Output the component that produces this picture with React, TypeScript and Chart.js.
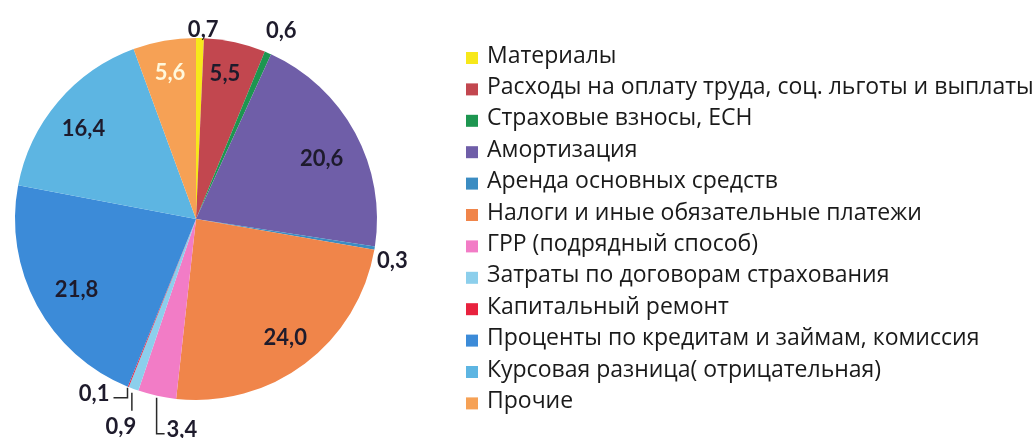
import React, { useEffect, useRef } from "react";
import { Chart, registerables } from "chart.js";

Chart.register(...registerables);

const categories = [
  "Материалы",
  "Расходы на оплату труда, соц. льготы и выплаты",
  "Страховые взносы, ЕСН",
  "Амортизация",
  "Аренда основных средств",
  "Налоги и иные обязательные платежи",
  "ГРР (подрядный способ)",
  "Затраты по договорам страхования",
  "Капитальный ремонт",
  "Проценты по кредитам и займам, комиссия",
  "Курсовая разница( отрицательная)",
  "Прочие",
];

const values = [0.7, 5.5, 0.6, 20.6, 0.3, 24.0, 3.4, 0.9, 0.1, 21.8, 16.4, 5.6];

const valueLabels = ["0,7", "5,5", "0,6", "20,6", "0,3", "24,0", "3,4", "0,9", "0,1", "21,8", "16,4", "5,6"];

const colors = [
  "#f7e81a",
  "#c2474f",
  "#1d9650",
  "#6f5ea8",
  "#3b8cc2",
  "#f0854a",
  "#f27cc6",
  "#8ccfec",
  "#e8223e",
  "#3c8bd8",
  "#5db5e2",
  "#f6a155",
];

// label placement: kind in = inside (r factor of radius), out = outside (r offset px), leader = leader line
const placement: any[] = [
  { kind: "out", r: 10, dx: 3, dy: 2 },
  { kind: "in", r: 0.82, dx: -3, dy: 0 },
  { kind: "out", r: 26, dx: 3, dy: 2 },
  { kind: "in", r: 0.77, dx: 3, dy: 6 },
  { kind: "out", r: 20, dx: -2, dy: 9 },
  { kind: "in", r: 0.82, dx: 0, dy: 0 },
  { kind: "leader", dir: "down-right" },
  { kind: "leader", dir: "down" },
  { kind: "leader", dir: "left" },
  { kind: "in", r: 0.77, dx: 3, dy: 4 },
  { kind: "in", r: 0.8, dx: -2, dy: 4 },
  { kind: "in", r: 0.82, dx: 0, dy: 0 },
];

const labelFont = "bold 22px Lato";
const legendFont = "23px 'Open Sans'";

const labelsPlugin = {
  id: "valueLabels",
  afterDatasetsDraw(chart: any) {
    const ctx = chart.ctx;
    const meta = chart.getDatasetMeta(0);
    ctx.save();
    ctx.font = labelFont;
    ctx.textBaseline = "middle";
    meta.data.forEach((arc: any, i: number) => {
      const p = placement[i];
      const { x, y, startAngle, endAngle, outerRadius } = arc.getProps(
        ["x", "y", "startAngle", "endAngle", "outerRadius"],
        true
      );
      const mid = (startAngle + endAngle) / 2;
      const cos = Math.cos(mid);
      const sin = Math.sin(mid);
      ctx.fillStyle = i === 11 ? "#fff8dc" : "#1e1b2c";
      if (p.kind === "in" || p.kind === "out") {
        const r = p.kind === "in" ? outerRadius * p.r : outerRadius + p.r;
        ctx.textAlign = "center";
        ctx.fillText(valueLabels[i], x + cos * r + p.dx, y + sin * r + p.dy);
      } else {
        const ax = x + cos * (outerRadius + 2);
        const ay = y + sin * (outerRadius + 2);
        ctx.strokeStyle = "#2a2a2a";
        ctx.lineWidth = 1.5;
        ctx.beginPath();
        if (p.dir === "down-right") {
          ctx.moveTo(ax, ay);
          ctx.lineTo(ax, ay + 36);
          ctx.lineTo(ax + 8, ay + 36);
          ctx.stroke();
          ctx.textAlign = "left";
          ctx.fillText(valueLabels[i], ax + 10, ay + 32);
        } else if (p.dir === "down") {
          ctx.moveTo(ax - 1, ay + 2);
          ctx.lineTo(ax - 1, ay + 20);
          ctx.stroke();
          ctx.textAlign = "center";
          ctx.fillText(valueLabels[i], ax - 12, ay + 36);
        } else {
          ctx.moveTo(ax, ay - 1);
          ctx.lineTo(ax, ay + 9);
          ctx.lineTo(ax - 14, ay + 9);
          ctx.stroke();
          ctx.textAlign = "right";
          ctx.fillText(valueLabels[i], ax - 18, ay + 5);
        }
      }
    });
    ctx.restore();
  },
};

const legendPlugin = {
  id: "sideLegend",
  afterDraw(chart: any) {
    const ctx = chart.ctx;
    const ds = chart.data.datasets[0];
    const left = 466;
    const top = 58;
    const step = 31.4;
    ctx.save();
    ctx.font = legendFont;
    ctx.textBaseline = "middle";
    ctx.textAlign = "left";
    chart.data.labels.forEach((lab: string, i: number) => {
      const cy = top + i * step;
      ctx.fillStyle = ds.backgroundColor[i];
      ctx.fillRect(left, cy - 6, 12, 12);
      ctx.fillStyle = "#1a1a1a";
      ctx.fillText(lab, left + 21, cy - 2);
    });
    ctx.restore();
  },
};

export default function App() {
  const ref = useRef<HTMLCanvasElement>(null);
  useEffect(() => {
    if (!ref.current) return;
    const chart = new Chart(ref.current, {
      type: "pie",
      data: {
        labels: categories,
        datasets: [
          {
            data: values,
            backgroundColor: colors,
            borderWidth: 0,
            radius: 181,
          },
        ],
      },
      options: {
        animation: false,
        responsive: true,
        maintainAspectRatio: false,
        layout: { padding: { left: 0, right: 642, top: 0, bottom: 0 } },
        plugins: {
          legend: { display: false },
          tooltip: { enabled: false },
        },
      },
      plugins: [labelsPlugin, legendPlugin],
    });
    return () => chart.destroy();
  }, []);
  return (
    <div style={{ position: "absolute", left: 0, top: 0, width: 1034, height: 438, background: "#fff" }}>
      <canvas ref={ref} />
    </div>
  );
}
